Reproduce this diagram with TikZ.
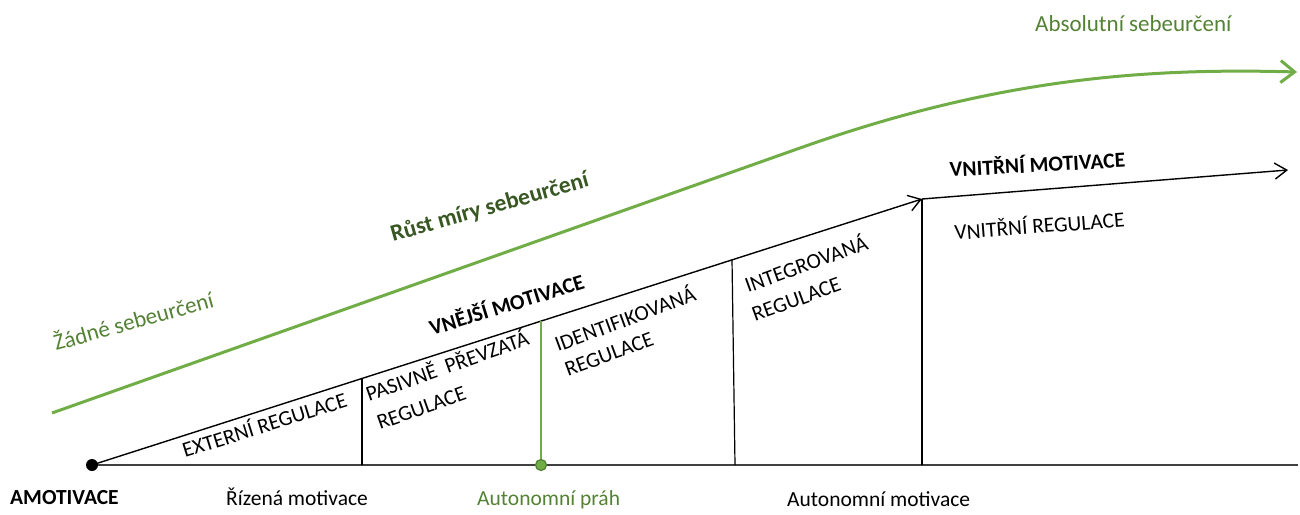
\documentclass[tikz,border=0pt]{standalone}
\usepackage{fontspec}
\setmainfont{Carlito}
\usetikzlibrary{arrows.meta}
\definecolor{lgreen}{HTML}{70AD47}
\definecolor{tgreen}{HTML}{548235}
\definecolor{dgreen}{HTML}{385723}
\definecolor{dotgreen}{HTML}{507E32}
\definecolor{basegray}{HTML}{404040}
\begin{document}
\begin{tikzpicture}[x=1pt,y=-1pt,
  lbl/.style={inner sep=0pt, anchor=base west, font=\fontsize{21.5}{26}\selectfont},
  blbl/.style={lbl, font=\fontsize{21.5}{26}\selectfont\bfseries},
  glbl/.style={lbl, text=tgreen},
  blackline/.style={line width=1.4pt, black},
  barb/.style={-{Straight Barb[length=12pt,width=16pt,line width=1.4pt]}},
  gbarb/.style={-{Straight Barb[length=14pt,width=22pt,line width=3pt]}}
]
\useasboundingbox (0,0) rectangle (1300,514);

% key points
\coordinate (amo) at (92,465);
\coordinate (axend) at (1298,465);
\coordinate (t1) at (362,378.5);
\coordinate (b1) at (362,465);
\coordinate (t2) at (541,321.4);
\coordinate (b2) at (541,465);
\coordinate (t3) at (732,259.5);
\coordinate (b3) at (735,465);
\coordinate (corner) at (922,199);
\coordinate (b4) at (922,465);
\coordinate (iend) at (1288,170);
\coordinate (g0) at (52,413);
\coordinate (g1) at (800,148);
\coordinate (gc1) at (1000,77);
\coordinate (gc2) at (1150,68);
\coordinate (gend) at (1297,72);

% green curve
\draw[lgreen, line width=3pt, gbarb] (g0) -- (g1) .. controls (gc1) and (gc2) .. (gend);

% axis and lines
\draw[basegray, line width=2pt] (amo) -- (axend);
\draw[blackline, barb] (amo) -- (corner);
\draw[blackline, barb] (corner) -- (iend);
\draw[line width=1.2pt] (t1) -- (b1);
\draw[line width=1.2pt] (t3) -- (b3);
\draw[line width=1.2pt] (corner) -- (b4);
\draw[lgreen, line width=2.2pt] (t2) -- (b2);

% dots
\fill[black] (amo) circle (6pt);
\filldraw[fill=lgreen, draw=dotgreen, line width=1.2pt] (b2) circle (5.5pt);

% texts
\node[glbl, font=\fontsize{23}{28}\selectfont] (abs) at (1035,31) {Absolutní sebeurčení};
\node[lbl, text=dgreen, font=\fontsize{23.5}{28}\selectfont\bfseries, rotate=15.8] (rust) at (393,242) {Růst míry sebeurčení};
\node[glbl, font=\fontsize{23}{28}\selectfont, rotate=15.6] (zadne) at (56,351) {Žádné sebeurčení};
\node[blbl, rotate=17.2] (vnejsi) at (432,336) {VNĚJŠÍ MOTIVACE};
\node[lbl, rotate=17.5] (ext) at (185,458) {EXTERNÍ REGULACE};
\node[lbl, rotate=19.6] (pas1) at (369,402) {PASIVNĚ\ \ PŘEVZATÁ};
\node[lbl, rotate=19.6] (pas2) at (380,430) {REGULACE};
\node[lbl, rotate=20.3] (id1) at (558,352) {IDENTIFIKOVANÁ};
\node[lbl, rotate=20.3] (id2) at (568,377) {REGULACE};
\node[lbl, rotate=20] (int1) at (748,293) {INTEGROVANÁ};
\node[lbl, rotate=20] (int2) at (755,322) {REGULACE};
\node[blbl, rotate=3.2] (vnitm) at (950,177) {VNITŘNÍ MOTIVACE};
\node[lbl, rotate=4.5] (vnitr) at (955,240) {VNITŘNÍ REGULACE};

\node[blbl] (amot) at (10,504) {AMOTIVACE};
\node[lbl] (rizena) at (226,505) {Řízená motivace};
\node[glbl] (prah) at (477,505) {Autonomní práh};
\node[lbl] (auton) at (787,506) {Autonomní motivace};
\end{tikzpicture}
\end{document}
